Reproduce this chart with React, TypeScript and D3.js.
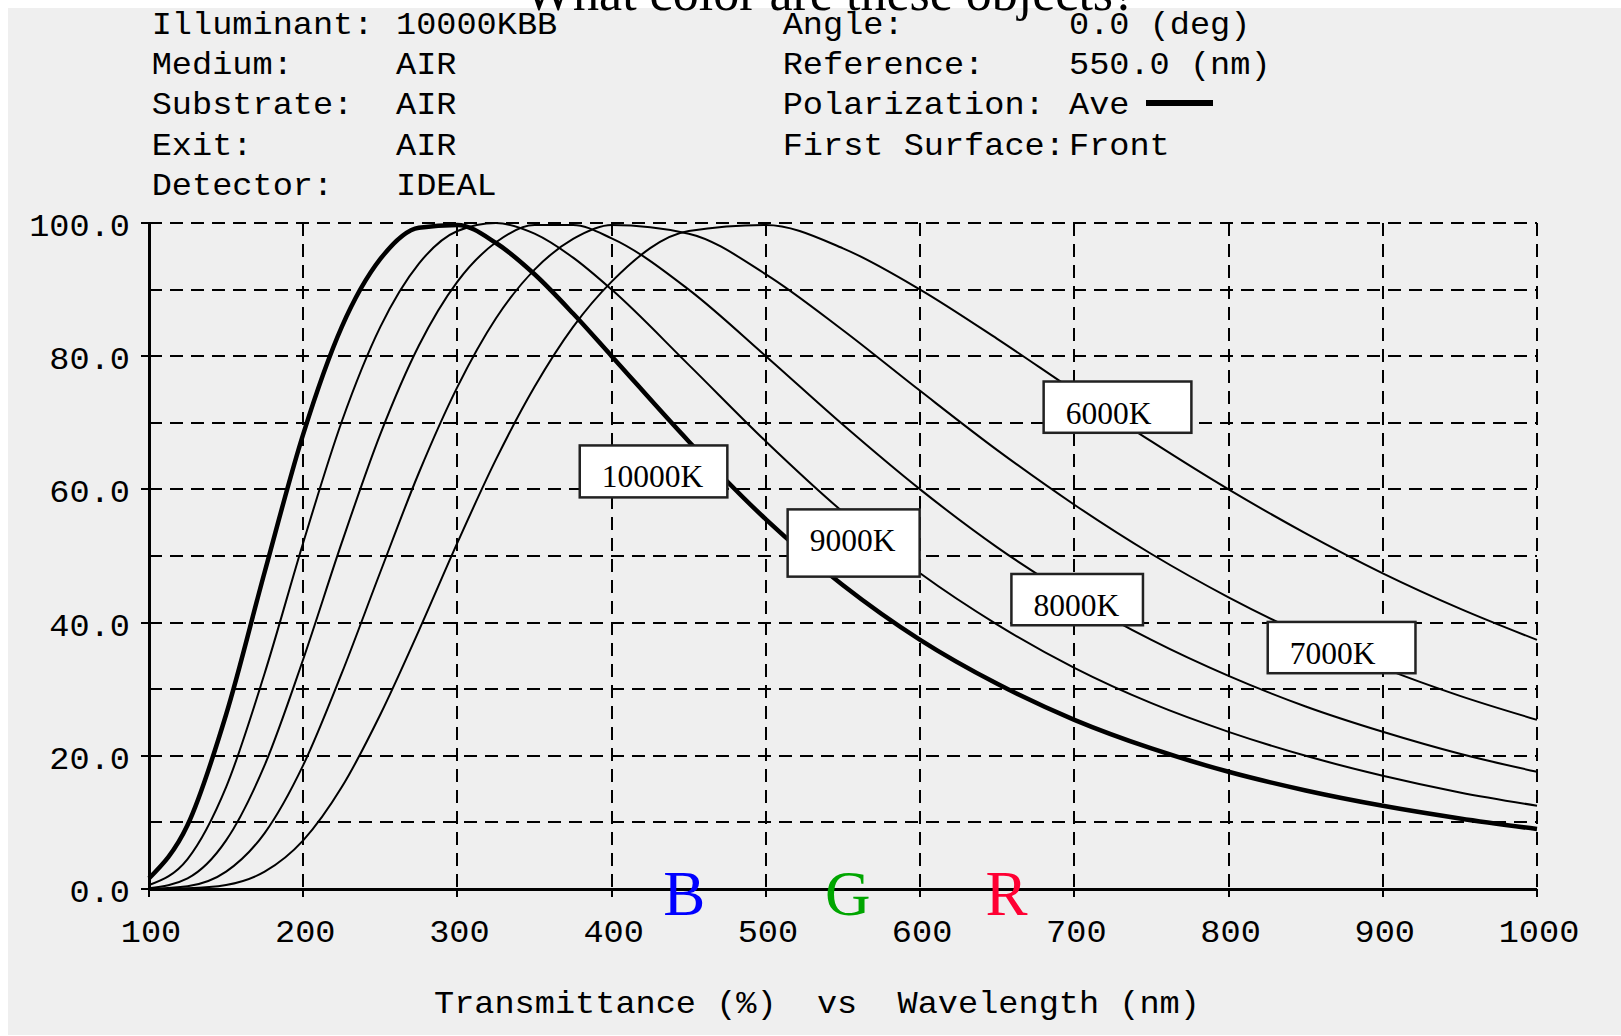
import * as d3 from 'd3';

// wavelength samples (nm) and normalised transmittance (%)
const wavelengths = [100, 125, 150, 175, 200, 225, 250, 275, 300, 325, 350, 375, 400, 450, 500, 550, 600, 650, 700, 750, 800, 850, 900, 950, 1000];
const t10000 = [1.6, 9.6, 26.2, 47.6, 68.3, 84.4, 94.6, 99.3, 99.7, 97.0, 92.3, 86.4, 80.0, 67.2, 55.5, 45.6, 37.4, 30.8, 25.4, 21.1, 17.6, 14.8, 12.5, 10.6, 9.0];
const t9000 = [0.6, 4.5, 15.3, 32.4, 52.0, 70.2, 84.4, 93.9, 98.8, 100.0, 98.4, 94.8, 90.0, 78.7, 67.2, 56.6, 47.4, 39.7, 33.2, 27.9, 23.6, 20.0, 17.0, 14.5, 12.5];
const t8000 = [0.1, 1.6, 7.3, 18.6, 34.5, 52.0, 68.3, 81.6, 91.2, 97.1, 99.7, 99.7, 97.7, 90.0, 80.0, 69.7, 60.0, 51.3, 43.8, 37.4, 32.0, 27.4, 23.6, 20.3, 17.6];
const t7000 = [0.0, 0.4, 2.6, 8.4, 18.6, 32.4, 47.6, 62.5, 75.4, 85.7, 93.0, 97.6, 99.7, 98.4, 92.3, 83.9, 74.8, 65.9, 57.7, 50.3, 43.8, 38.1, 33.2, 29.0, 25.4];
const t6000 = [0.0, 0.1, 0.6, 2.6, 7.3, 15.3, 26.2, 38.8, 52.0, 64.5, 75.4, 84.4, 91.2, 98.8, 99.7, 96.2, 90.0, 82.6, 74.8, 67.2, 60.0, 53.4, 47.4, 42.1, 37.4];

const yTicks = [0, 20, 40, 60, 80, 100];
const xTicks = [100, 200, 300, 400, 500, 600, 700, 800, 900, 1000];

// label boxes: edges in nm / %
const labelNames = ['10000K', '9000K', '8000K', '7000K', '6000K'];
const labelLeft = [379.3, 514.1, 659.2, 825.4, 680.1];
const labelRight = [475.0, 599.7, 744.5, 921.2, 775.9];
const labelTop = [66.6, 57.0, 47.3, 40.1, 76.2];
const labelBottom = [58.8, 46.9, 39.6, 32.4, 68.5];

const bandLetters = ['B', 'G', 'R'];
const bandCenters = [447, 553, 656];
const bandColors = ['#0000ff', '#00a600', '#ff0033'];

const headerLeftKeys = ['Illuminant:', 'Medium:', 'Substrate:', 'Exit:', 'Detector:'];
const headerLeftValues = ['10000KBB', 'AIR', 'AIR', 'AIR', 'IDEAL'];
const headerRightKeys = ['Angle:', 'Reference:', 'Polarization:', 'First Surface:'];
const headerRightValues = ['0.0 (deg)', '550.0 (nm)', 'Ave', 'Front'];

const mono = '"Liberation Mono", "Courier New", monospace';
const serif = '"Liberation Serif", "Times New Roman", serif';

// monospace text, squashed a little vertically like the old bitmap font
const Mono = ({ x, y, anchor = 'start', children }) => (
  <text transform={`translate(${x},${y}) scale(1,0.94)`} textAnchor={anchor}
    fontFamily={mono} fontSize={33.6} fill='#000' style={{ whiteSpace: 'pre' }}>{children}</text>
);

const App = () => {
  const W = 1621, H = 1036;
  const x = d3.scaleLinear().domain([100, 1000]).range([149, 1537]);
  const y = d3.scaleLinear().domain([0, 100]).range([889, 223]);
  const px = (v) => Math.round(x(v));
  const py = (v) => Math.round(y(v));

  const series = [
    { name: '10000K', values: t10000, w: 4.5 },
    { name: '9000K', values: t9000, w: 2 },
    { name: '8000K', values: t8000, w: 2 },
    { name: '7000K', values: t7000, w: 2 },
    { name: '6000K', values: t6000, w: 2 },
  ];

  const line = d3.line<number>()
    .x((d, i) => x(wavelengths[i]))
    .y(d => y(d))
    .curve(d3.curveMonotoneX);

  const fmt = d3.format('.1f');
  const rowY = (i) => 33.5 + i * 40.4;

  return (
    <svg width={W} height={H} style={{ position: 'absolute', left: 0, top: 0 }}>
      <rect x={0} y={0} width={W} height={H} fill='#fff' />
      <rect x={8} y={8} width={W - 8} height={H - 9} fill='#efefef' />

      {/* header block */}
      {headerLeftKeys.map((k, i) => (
        <g key={k}>
          <Mono x={151.7} y={rowY(i)}>{k}</Mono>
          <Mono x={396} y={rowY(i)}>{headerLeftValues[i]}</Mono>
        </g>
      ))}
      {headerRightKeys.map((k, i) => (
        <g key={k}>
          <Mono x={782.7} y={rowY(i)}>{k}</Mono>
          <Mono x={1069} y={rowY(i)}>{headerRightValues[i]}</Mono>
        </g>
      ))}
      <line x1={1146} x2={1213} y1={103} y2={103} stroke='#000' strokeWidth={6} shapeRendering='crispEdges' />

      {/* grid */}
      <g stroke='#000' strokeWidth={2} strokeDasharray='13,8' shapeRendering='crispEdges'>
        {d3.range(10, 101, 10).map(v => (
          <line key={'h' + v} x1={px(100)} x2={px(1000)} y1={py(v)} y2={py(v)} />
        ))}
        {d3.range(200, 1001, 100).map(v => (
          <line key={'v' + v} x1={px(v)} x2={px(v)} y1={py(100)} y2={py(0)} />
        ))}
      </g>

      {/* axes */}
      <g stroke='#000' strokeWidth={3} shapeRendering='crispEdges'>
        <line x1={px(100)} x2={px(100)} y1={py(100)} y2={py(0)} />
        <line x1={px(100)} x2={px(1000)} y1={py(0)} y2={py(0)} />
        {yTicks.map(v => (
          <line key={'yt' + v} x1={px(100) - 8} x2={px(100)} y1={py(v)} y2={py(v)} strokeWidth={2} />
        ))}
        {xTicks.map(v => (
          <line key={'xt' + v} x1={px(v)} x2={px(v)} y1={py(0)} y2={py(0) + 8} strokeWidth={2} />
        ))}
      </g>
      {yTicks.map(v => (
        <Mono key={'yl' + v} x={130} y={y(v) + 13} anchor='end'>{fmt(v)}</Mono>
      ))}
      {xTicks.map(v => (
        <Mono key={'xl' + v} x={x(v) + 2} y={942} anchor='middle'>{String(v)}</Mono>
      ))}
      <Mono x={434} y={1012.5}>Transmittance (%)  vs  Wavelength (nm)</Mono>

      {/* curves */}
      <g fill='none' stroke='#000' strokeLinejoin='round'>
        {series.map(s => (
          <path key={s.name} d={line(s.values) || ''} strokeWidth={s.w} />
        ))}
      </g>

      {/* curve labels */}
      <g>
        {labelNames.map((n, i) => (
          <g key={n}>
            <rect x={x(labelLeft[i])} y={y(labelTop[i])}
              width={x(labelRight[i]) - x(labelLeft[i])} height={y(labelBottom[i]) - y(labelTop[i])}
              fill='#fff' stroke='#222' strokeWidth={2.5} />
            <text x={x(labelLeft[i]) + 22} y={y(labelTop[i]) + 42} fontFamily={serif} fontSize={31.5} fill='#000'>{n}</text>
          </g>
        ))}
      </g>

      {/* colour band letters */}
      {bandLetters.map((b, i) => (
        <text key={b} x={x(bandCenters[i])} y={y(0) + 26} textAnchor='middle'
          fontFamily={serif} fontSize={63} fill={bandColors[i]}>{b}</text>
      ))}

      <text x={524} y={9.5} fontFamily={serif} fontSize={52} fill='#000'>What color are these objects?</text>
    </svg>
  );
};

export default App;
